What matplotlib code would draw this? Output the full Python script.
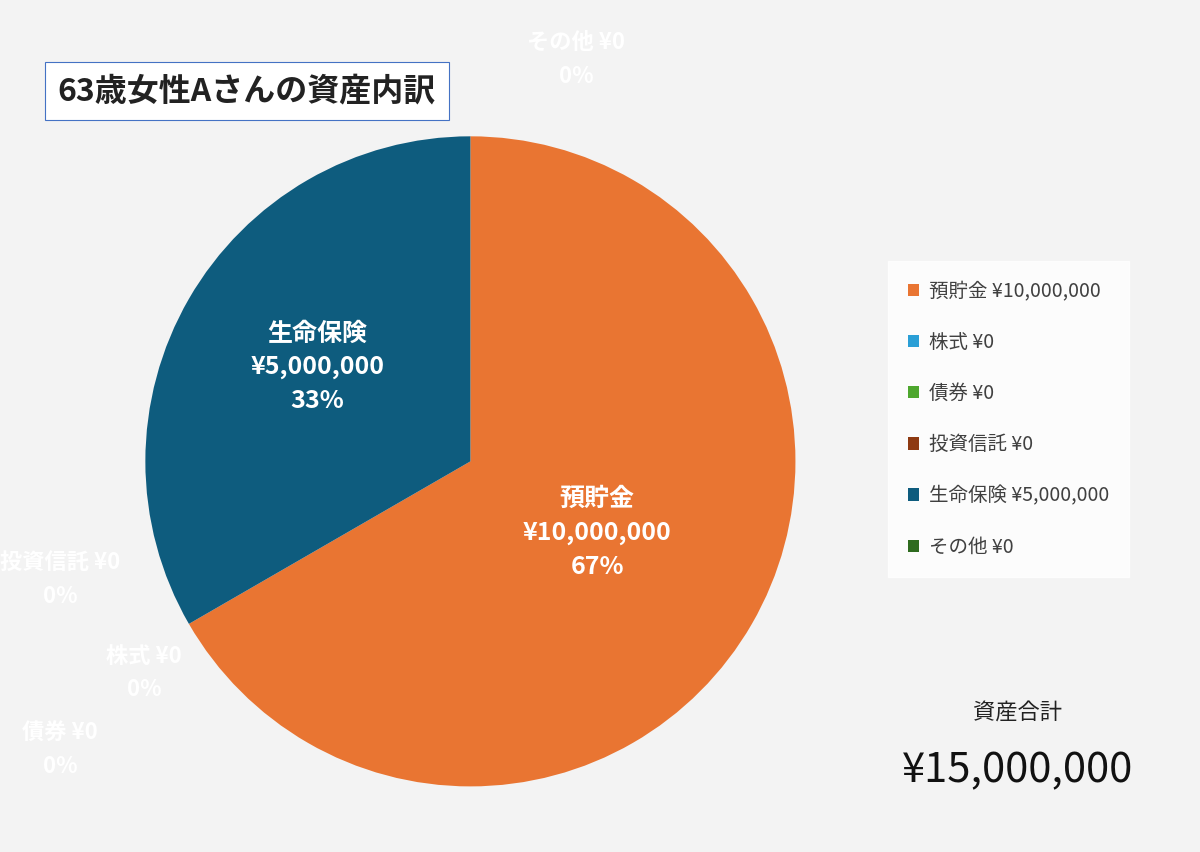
import matplotlib
matplotlib.use("Agg")
import matplotlib.pyplot as plt
from matplotlib.patches import Patch

plt.rcParams['font.family'] = 'Noto Sans CJK JP'

# Data
labels = ['預貯金', '株式', '債券', '投資信託', '生命保険', 'その他']
values = [10000000, 0, 0, 0, 5000000, 0]
colors = ['#E97532', '#2A9FD6', '#4EA72E', '#8E3A12', '#0E5C7E', '#2E6B1F']
total = sum(values)

fig = plt.figure(figsize=(12, 8.52), dpi=100)
fig.patch.set_facecolor('#f3f3f3')

ax = fig.add_axes([0.121, 0.077, 0.542, 0.763])
ax.pie(values, colors=colors, startangle=90, counterclock=False,
       wedgeprops=dict(linewidth=0))
ax.set_xlim(-1, 1)
ax.set_ylim(-1, 1)
ax.set_aspect('equal')

# labels on nonzero slices
ax.text(0.39, -0.22, '預貯金\n¥{:,}\n{:.0%}'.format(values[0], values[0] / total),
        ha='center', va='center', color='white', fontsize=18, fontweight='bold',
        linespacing=1.5)
ax.text(-0.47, 0.29, '生命保険\n¥{:,}\n{:.0%}'.format(values[4], values[4] / total),
        ha='center', va='center', color='white', fontsize=18, fontweight='bold',
        linespacing=1.5)

# zero-value labels (white, nearly invisible on background)
zero_pos = {1: (0.12, 0.21), 2: (0.05, 0.12), 3: (0.05, 0.32), 5: (0.48, 0.93)}
for i, (x, y) in zero_pos.items():
    fig.text(x, y, '{} ¥{}\n0%'.format(labels[i], values[i]), ha='center', va='center',
             color='white', fontsize=16, fontweight='bold', linespacing=1.6)

# title box
fig.text(0.048, 0.893, '63歳女性Aさんの資産内訳', ha='left', va='center', fontsize=23,
         fontweight='bold', color='#222222',
         bbox=dict(boxstyle='square,pad=0.4', facecolor='white', edgecolor='#4472C4', linewidth=0.8))

# legend
handles = [Patch(facecolor=c, label='{} ¥{:,}'.format(l, v)) for l, v, c in zip(labels, values, colors)]
leg = fig.legend(handles=handles, loc='center left', bbox_to_anchor=(0.732, 0.508),
                 frameon=True, fontsize=14, labelspacing=1.55, handlelength=0.6,
                 handleheight=0.6, borderpad=1.0, fancybox=False, handletextpad=0.5)
leg.get_frame().set_facecolor('white')
leg.get_frame().set_edgecolor('white')
for t in leg.get_texts():
    t.set_color('#404040')

# total
fig.text(0.848, 0.163, '資産合計', ha='center', va='center', fontsize=16, color='#222222')
fig.text(0.848, 0.095, '¥{:,}'.format(total), ha='center', va='center', fontsize=30, color='#111111')

fig.savefig('out.png', dpi=100, facecolor=fig.get_facecolor())
